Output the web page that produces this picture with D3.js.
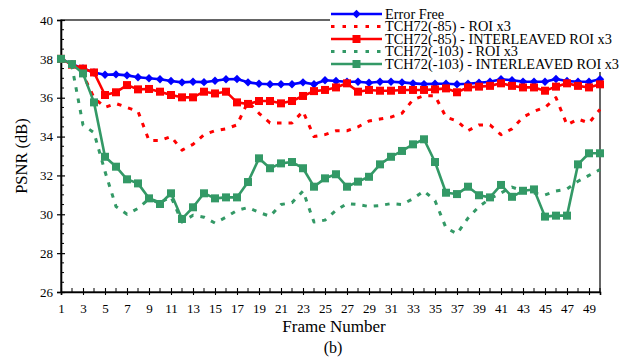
<!DOCTYPE html>
<html><head><meta charset="utf-8">
<script src="https://cdn.jsdelivr.net/npm/d3@7"></script>
<style>body{margin:0;background:#fff}svg{display:block;font-family:"Liberation Serif","Times New Roman",serif}</style>
</head><body><svg id="c" width="632" height="358"></svg>
<script>
const frames = d3.range(1, 51);
const errorFree = [38.0,37.73,37.5,37.3,37.18,37.2,37.15,37.05,37.0,36.95,36.86,36.79,36.82,36.8,36.87,36.95,36.96,36.79,36.72,36.69,36.69,36.69,36.79,36.69,36.9,36.86,36.82,36.82,36.77,36.82,36.82,36.79,36.74,36.7,36.72,36.72,36.69,36.72,36.77,36.82,36.95,36.9,36.83,36.82,36.82,36.96,36.86,36.82,36.82,36.95];
const tch85Roi = [38.0,37.7,37.2,36.0,35.5,35.7,35.5,35.3,33.8,33.8,34.0,33.3,33.6,34.1,34.3,34.4,34.6,35.8,35.2,34.7,34.7,34.7,35.3,34.0,34.1,34.3,34.3,34.5,34.8,34.9,35.0,35.2,35.9,36.1,36.1,35.0,34.8,34.3,34.6,34.6,34.1,34.4,35.0,35.3,35.5,36.0,34.6,34.9,34.7,35.4];
const tch85Inter = [38.0,37.7,37.5,37.3,36.14,36.28,36.65,36.43,36.45,36.31,36.14,36.02,36.02,36.31,36.22,36.31,35.76,35.68,35.83,35.83,35.71,35.83,36.09,36.34,36.4,36.53,36.74,36.31,36.4,36.36,36.36,36.4,36.4,36.4,36.43,36.48,36.28,36.53,36.57,36.61,36.74,36.61,36.53,36.53,36.36,36.57,36.74,36.61,36.53,36.69];
const tch103Roi = [38.0,37.6,34.6,34.2,32.2,30.4,30.0,30.3,30.8,30.6,30.9,29.6,29.95,29.85,29.55,29.85,30.2,30.35,30.1,29.9,30.5,30.6,31.2,29.6,29.7,30.2,30.55,30.5,30.4,30.45,30.55,30.5,30.8,31.2,30.7,29.3,29.0,29.8,30.4,30.8,31.1,31.4,31.2,31.1,31.0,31.2,31.3,31.7,32.0,32.3];
const tch103Inter = [38.0,37.73,37.25,35.76,32.96,32.45,31.8,31.59,30.82,30.53,31.08,29.76,30.36,31.08,30.82,30.87,30.87,31.66,32.88,32.37,32.62,32.69,32.37,31.42,31.85,32.06,31.42,31.68,31.93,32.57,32.96,33.26,33.6,33.86,32.69,31.11,31.04,31.42,30.98,30.87,31.51,30.9,31.21,31.28,29.88,29.93,29.93,32.57,33.14,33.14];
const seriesNames = ["Error Free","TCH72(-85) - ROI x3","TCH72(-85) - INTERLEAVED ROI x3","TCH72(-103) - ROI x3","TCH72(-103) - INTERLEAVED ROI x3"];
const yTickValues = [26,28,30,32,34,36,38,40];
const xTickLabels = d3.range(1, 50, 2);

const series = [
  {name: seriesNames[0], values: errorFree, color: "#0000ff", dash: null, marker: "diamond"},
  {name: seriesNames[1], values: tch85Roi, color: "#ff0000", dash: "4.5,7", marker: null},
  {name: seriesNames[2], values: tch85Inter, color: "#ff0000", dash: null, marker: "square"},
  {name: seriesNames[3], values: tch103Roi, color: "#339966", dash: "4.5,7", marker: null},
  {name: seriesNames[4], values: tch103Inter, color: "#339966", dash: null, marker: "square"}
];

const svg = d3.select("#c");
const L = 61, R = 600, T = 20, B = 292;
const x = d3.scaleLinear().domain([1, 50]).range([L, R]);
const y = d3.scaleLinear().domain([26, 40]).range([B, T]);

// frame
svg.append("rect").attr("x", L).attr("y", T).attr("width", R - L).attr("height", B - T)
  .attr("fill", "none").attr("stroke", "#000").attr("stroke-width", 1.2);

// y axis
const yAxis = d3.axisLeft(y).tickValues(yTickValues).tickSize(4).tickFormat(d3.format("d"));
const gy = svg.append("g").attr("transform", `translate(${L},0)`).call(yAxis);
gy.select(".domain").attr("stroke-width", 1.6);
gy.selectAll(".tick line").attr("x2", -4).attr("x1", 4).attr("stroke-width", 1.2);
gy.selectAll(".tick text").attr("font-size", 13).attr("font-family", "Liberation Serif").attr("fill", "#000").attr("x", -8);
const yMinor = d3.range(26, 40.01, 0.5).filter(v => v % 2 !== 0);
svg.append("g").selectAll("line").data(yMinor).join("line")
  .attr("x1", L).attr("x2", L + 3).attr("y1", d => y(d)).attr("y2", d => y(d)).attr("stroke", "#000").attr("stroke-width", 1);

// x axis
const xAxis = d3.axisBottom(x).tickValues(xTickLabels).tickSize(3).tickFormat(d3.format("d"));
const gx = svg.append("g").attr("transform", `translate(0,${B})`).call(xAxis);
gx.select(".domain").attr("stroke-width", 1.6);
gx.selectAll(".tick line").attr("y1", -4).attr("y2", 3).attr("stroke-width", 1.1);
gx.selectAll(".tick text").attr("font-size", 13).attr("font-family", "Liberation Serif").attr("fill", "#000").attr("y", 12);
svg.append("g").selectAll("line").data(frames.filter(f => f % 2 === 0)).join("line")
  .attr("x1", d => x(d)).attr("x2", d => x(d)).attr("y1", B).attr("y2", B - 4).attr("stroke", "#000").attr("stroke-width", 1);

// titles
svg.append("text").attr("transform", `translate(27,${(T + B) / 2}) rotate(-90)`).attr("text-anchor", "middle")
  .attr("font-size", 16.5).text("PSNR (dB)");
svg.append("text").attr("x", 334).attr("y", 332).attr("text-anchor", "middle").attr("font-size", 17).text("Frame Number");
svg.append("text").attr("x", 333).attr("y", 353).attr("text-anchor", "middle").attr("font-size", 16).text("(b)");

// lines
const line = d3.line().x((d, i) => x(frames[i])).y(d => y(d));
function drawMarker(g, type, color, cx, cy) {
  if (type === "diamond") {
    g.append("path").attr("d", `M${cx},${cy - 4.2}L${cx + 4.2},${cy}L${cx},${cy + 4.2}L${cx - 4.2},${cy}Z`).attr("fill", color);
  } else if (type === "square") {
    g.append("rect").attr("x", cx - 4).attr("y", cy - 4).attr("width", 8).attr("height", 8).attr("fill", color);
  }
}
series.forEach(s => {
  const g = svg.append("g");
  g.append("path").datum(s.values).attr("d", line).attr("fill", "none").attr("stroke", s.color)
    .attr("stroke-width", s.dash ? 3 : 2.6).attr("stroke-dasharray", s.dash).attr("stroke-linejoin", "round");
  if (s.marker) s.values.forEach((v, i) => drawMarker(g, s.marker, s.color, x(frames[i]), y(v)));
});

// legend
const lg = svg.append("g");
lg.append("rect").attr("x", 330).attr("y", 0).attr("width", 302).attr("height", 72).attr("fill", "#fff");
series.forEach((s, i) => {
  const yy = 14 + i * 12.5;
  lg.append("line").attr("x1", 331).attr("x2", 382).attr("y1", yy).attr("y2", yy).attr("stroke", s.color)
    .attr("stroke-width", s.dash ? 2.8 : 2.4).attr("stroke-dasharray", s.dash ? "3.5,8" : null);
  if (s.marker) drawMarker(lg, s.marker, s.color, 356.5, yy);
  lg.append("text").attr("x", 385).attr("y", yy + 4.7).attr("font-size", 14.3).text(s.name);
});
</script>
</body></html>
